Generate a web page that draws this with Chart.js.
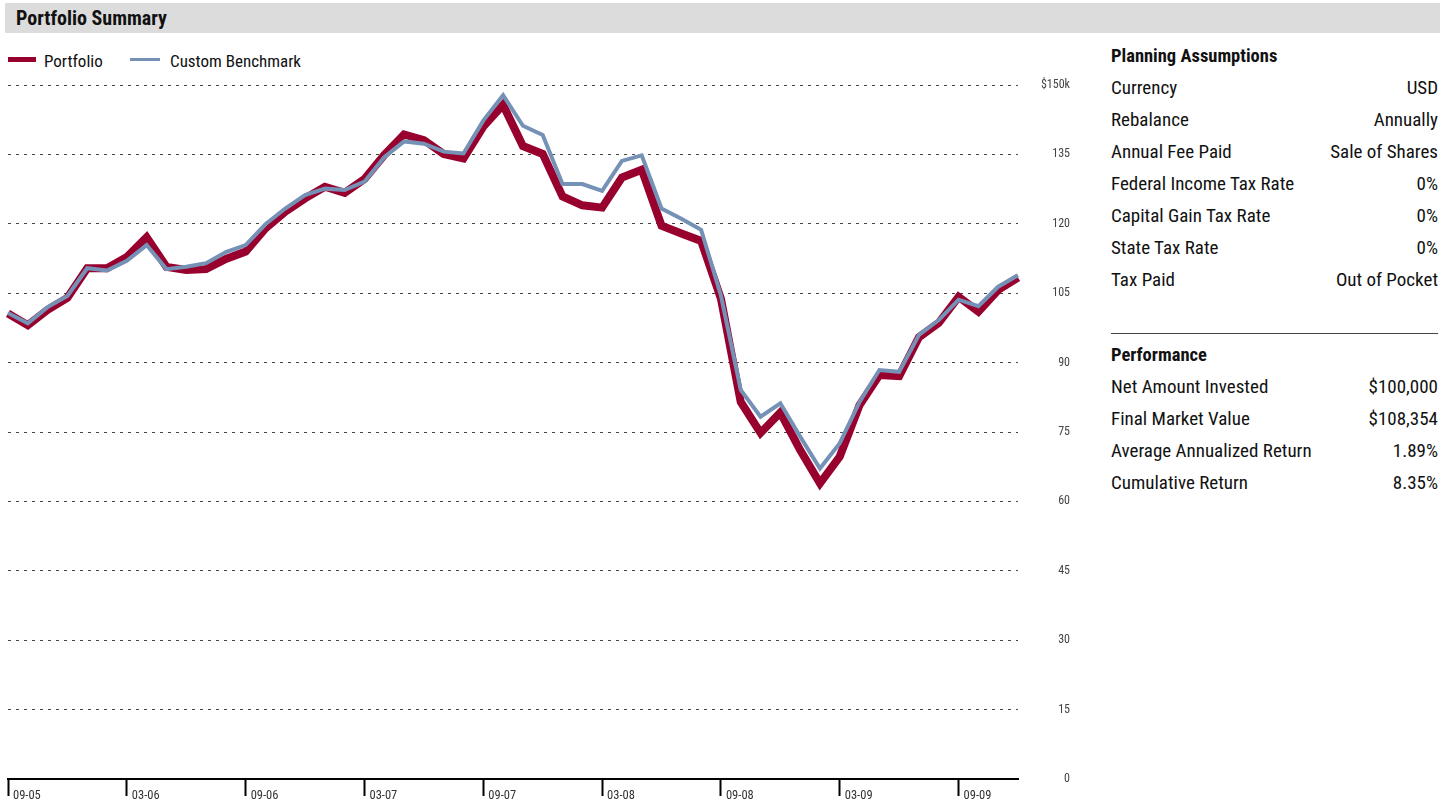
<!DOCTYPE html>
<html>
<head>
<meta charset="utf-8">
<script src="https://cdn.jsdelivr.net/npm/chart.js@4"></script>
<style>
  body { margin: 0; width: 1447px; height: 803px; background: #fff; overflow: hidden; position: relative;
         font-family: 'Liberation Sans Narrow', 'Roboto Condensed', 'Arial Narrow', Roboto, sans-serif; color: #111; }
  #header { position: absolute; left: 5px; top: 3px; width: 1435px; height: 30px; background: #dcdcdc;
            font-weight: bold; font-size: 20px; line-height: 30px; padding-left: 11px; box-sizing: border-box; }
  #legend { position: absolute; left: 8px; top: 50px; height: 22px; font-size: 17px; line-height: 22px; }
  .item { position: absolute; top: 0; white-space: nowrap; }
  .swatch { position: absolute; }
  #chartBox { position: absolute; left: 0; top: 70px; width: 1072px; height: 733px; }
  #panel { position: absolute; left: 1111px; top: 40px; width: 327px; font-size: 19px; }
  .title { font-weight: bold; font-size: 18.5px; height: 32px; line-height: 32px; }
  .row { height: 32px; line-height: 32px; display: flex; justify-content: space-between; }
  .rule { border-top: 1px solid #444; margin-top: 37px; height: 5px; }
</style>
</head>
<body>
<div id="header">Portfolio Summary</div>
<div id="legend"></div>
<div id="chartBox"><canvas id="summaryChart"></canvas></div>
<div id="panel"></div>
<script>
// Month labels, one per data point
const months = ['09-05','10-05','11-05','12-05','01-06','02-06','03-06','04-06','05-06','06-06','07-06','08-06',
                '09-06','10-06','11-06','12-06','01-07','02-07','03-07','04-07','05-07','06-07','07-07','08-07',
                '09-07','10-07','11-07','12-07','01-08','02-08','03-08','04-08','05-08','06-08','07-08','08-08',
                '09-08','10-08','11-08','12-08','01-09','02-09','03-09','04-09','05-09','06-09','07-09','08-09',
                '09-09','10-09','11-09','12-09'];

// Values in $k
const portfolio = [100.6, 98.1, 101.4, 104.0, 110.4, 110.4, 112.8, 117.1, 110.7, 110.0, 110.2, 112.4,
                   114.0, 119.0, 122.6, 125.5, 128.0, 126.7, 129.7, 134.9, 139.3, 138.1, 135.1, 134.1,
                   141.0, 145.7, 136.8, 135.1, 125.9, 124.0, 123.5, 130.0, 131.7, 119.6, 117.9, 116.3,
                   103.8, 81.5, 74.8, 79.2, 71.1, 63.9, 69.7, 80.8, 87.3, 87.1, 95.5, 98.6,
                   104.2, 101.0, 105.7, 108.35];
const benchmark = [100.7, 98.5, 102.0, 104.4, 110.4, 109.9, 112.0, 115.4, 110.2, 110.7, 111.5, 113.9,
                   115.4, 119.9, 123.3, 126.2, 127.6, 127.3, 129.1, 134.4, 137.8, 137.3, 135.6, 135.2,
                   142.3, 147.8, 141.2, 139.2, 128.6, 128.6, 127.1, 133.6, 134.8, 123.3, 121.1, 118.7,
                   104.5, 84.1, 78.3, 81.2, 74.0, 67.1, 72.6, 81.5, 88.4, 88.0, 96.0, 99.2,
                   103.6, 102.2, 106.4, 108.9];

const seriesNames = ['Portfolio', 'Custom Benchmark'];
const seriesColors = ['#98002e', '#7592b6'];
const yTicks = [0, 15, 30, 45, 60, 75, 90, 105, 120, 135, 150];

const planningRows = [['Currency', 'USD'], ['Rebalance', 'Annually'], ['Annual Fee Paid', 'Sale of Shares'],
                      ['Federal Income Tax Rate', '0%'], ['Capital Gain Tax Rate', '0%'],
                      ['State Tax Rate', '0%'], ['Tax Paid', 'Out of Pocket']];
const performanceRows = [['Net Amount Invested', '$100,000'], ['Final Market Value', '$108,354'],
                         ['Average Annualized Return', '1.89%'], ['Cumulative Return', '8.35%']];

const fontStack = "'Liberation Sans Narrow', 'Roboto Condensed', 'Arial Narrow', Roboto, sans-serif";

// legend
const legend = document.getElementById('legend');
legend.innerHTML =
  `<div class="item" style="left:0"><span class="swatch" style="left:0;top:7px;width:28px;height:5px;background:${seriesColors[0]}"></span><span style="margin-left:36px">${seriesNames[0]}</span></div>` +
  `<div class="item" style="left:122px"><span class="swatch" style="left:0;top:8px;width:30px;height:3px;background:${seriesColors[1]}"></span><span style="margin-left:40px">${seriesNames[1]}</span></div>`;

// side panel
function rowsHtml(rows) {
  return rows.map(r => `<div class="row"><span>${r[0]}</span><span>${r[1]}</span></div>`).join('');
}
document.getElementById('panel').innerHTML =
  `<div class="title">Planning Assumptions</div>` + rowsHtml(planningRows) +
  `<div class="rule"></div><div class="title">Performance</div>` + rowsHtml(performanceRows);

// month labels drawn to the right of each half-year tick
const xLabelPlugin = {
  id: 'xLabels',
  afterDraw(chart) {
    const xs = chart.scales.x;
    const c = chart.ctx;
    c.save();
    c.font = `12.5px ${fontStack}`;
    c.fillStyle = '#333';
    c.textAlign = 'left';
    c.textBaseline = 'middle';
    months.forEach((m, i) => {
      if (i % 6 !== 0) return;
      c.fillText(m, xs.getPixelForValue(i) + 5, xs.top + 17);
    });
    c.restore();
  }
};

const ctx = document.getElementById('summaryChart');
new Chart(ctx, {
  type: 'line',
  data: {
    labels: months,
    datasets: [
      {
        label: seriesNames[0],
        data: portfolio,
        borderColor: seriesColors[0],
        borderWidth: 8,
        order: 1
      },
      {
        label: seriesNames[1],
        data: benchmark,
        borderColor: seriesColors[1],
        borderWidth: 4,
        order: 0
      }
    ]
  },
  options: {
    responsive: true,
    maintainAspectRatio: false,
    animation: false,
    layout: { padding: { top: 15, left: 8, right: 2, bottom: 0 } },
    elements: {
      point: { radius: 0, hoverRadius: 0 },
      line: { tension: 0, borderJoinStyle: 'miter', borderCapStyle: 'butt' }
    },
    plugins: { legend: { display: false }, tooltip: { enabled: false } },
    scales: {
      x: {
        type: 'category',
        offset: false,
        grid: {
          drawOnChartArea: false,
          drawTicks: true,
          tickLength: 17,
          tickWidth: 2,
          tickColor: (c) => (c.index % 6 === 0 ? '#000' : 'rgba(0,0,0,0)')
        },
        border: { display: true, color: '#000', width: 2 },
        ticks: { display: false, autoSkip: false, maxRotation: 0 },
        afterFit(scale) { scale.height = 24; }
      },
      y: {
        position: 'right',
        min: 0,
        max: 150,
        afterBuildTicks(scale) { scale.ticks = yTicks.map(v => ({ value: v })); },
        grid: { color: '#444', lineWidth: 1, drawTicks: false },
        border: { display: false, dash: [3, 5] },
        ticks: {
          crossAlign: 'far',
          padding: 0,
          color: '#444',
          font: { size: 12, family: fontStack },
          callback: (v) => (v === 150 ? '$150k' : String(v))
        },
        afterFit(scale) { scale.width = 52; }
      }
    }
  },
  plugins: [xLabelPlugin]
});
</script>
</body>
</html>
